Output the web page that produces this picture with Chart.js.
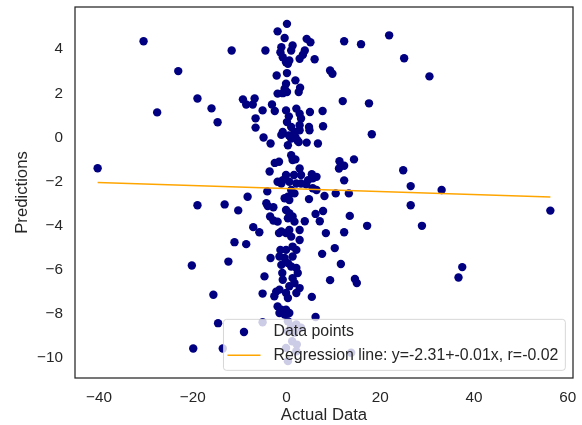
<!DOCTYPE html>
<html>
<head>
<meta charset="utf-8">
<script src="https://cdn.jsdelivr.net/npm/chart.js@4/dist/chart.umd.min.js"></script>
<style>
  body { margin: 0; background: #fff; }
</style>
</head>
<body>
<canvas id="scatterChart" width="582" height="425"></canvas>
<script>
// Valeurs réelles (axe x)
const actualData = [
  -30.5, -40.3, -23.1, -27.6, -19.0, -16.0, -14.7, -11.7, -4.5, -9.3,
  -8.6, -7.2, -6.8, -5.1, -6.6, -6.6, -3.1, -2.5, -4.9, -3.4,
  -1.9, -2.1, -2.5, -1.6, -3.6, -1.1, -4.1, -8.3, 0.1, 4.3,
  5.1, 12.3, 15.9, 21.9, 25.1, 30.5, 6.0, 9.3, 9.8, 12.0,
  17.6, 18.2, 7.7, 7.8, 5.0, 6.7, 4.3, 14.4, 11.3, 12.3,
  11.2, 12.3, 24.9, 26.5, 33.1, 13.3, 10.5, 8.1, 5.4, 6.4,
  2.8, 1.6, 1.0, 1.9, 0.3, 2.6, 1.9, 1.9, 2.9, 2.6,
  -0.1, 0.1, 56.3, 26.5, 28.9, 37.5, 36.7, 17.2, 13.5, 12.3,
  8.4, 10.3, 7.6, 11.6, 9.3, 14.6, 15.0, 5.4, 6.2, 7.8,
  6.2, 7.1, 3.9, 4.8, -19.0, -13.2, -10.3, -4.3, -4.0, -2.8,
  -3.5, -2.8, -7.1, -5.8, -11.1, -8.6, -20.2, -12.4, -3.4, -4.7,
  -15.6, -5.1, -2.6, -2.2, -1.9, -1.5, -14.6, -5.1, -19.9, -13.6,
  -0.9, -1.3, -1.6, 1.0, 0.3, 1.2, 2.2, -0.1, 0.3, 13.8,
  0.3, -0.4, -1.1, -1.3, -0.8, 1.3, 1.0, 3.9, 3.5, 2.8,
  -0.1, 0.6, 0.3, -1.9, -0.8, 0.1, -0.1, 0.5, 0.1, 1.0,
  2.1, 2.8, 3.1, 2.8, 4.8, -0.8, 1.7, 2.8, 0.5, 1.0,
  2.3, 4.9, 1.3, -0.1, 3.1, 5.6, 4.6, -1.9, -0.8, -1.1,
  0.6, 2.1, 3.1, 4.2, 5.6, 6.4, 1.0, 0.3, -0.4, 0.6,
  1.7, -0.1, 0.6, 0.3, 1.3, 1.7, -1.1, -0.1, 0.6, 1.0,
  2.8, 2.8, -0.1, 1.3, 2.1, -1.5, -0.4, -1.1, 0.3, 1.3,
  1.0, 2.1, 2.4, -0.8, 1.3, 1.7, 0.6, 2.8, 2.1, -1.5,
  -0.1, 0.3, -1.1, -0.1, 0.6, -0.4, 2.1, 3.1, 1.7, 2.1,
  -0.4, -1.9
];

// Prédictions (axe y)
const predictions = [
  4.36, -1.39, 3.01, 1.14, 1.77, 1.32, 0.69, 3.94, 3.94, 1.73,
  1.50, 1.50, 1.77, 1.23, 0.87, 0.45, 1.50, 1.20, 0.00, -0.27,
  4.81, 2.81, -1.15, -1.10, -1.54, 0.12, -2.44, -2.68, 5.15, 4.47,
  4.32, 4.36, 4.23, 4.63, 3.59, 2.77, 3.55, 3.04, 2.89, 1.65,
  1.55, 0.15, 1.20, 0.51, 1.16, -0.27, -0.23, -0.99, -1.07, -1.28,
  -1.40, -1.94, -1.48, -2.20, -2.38, -2.53, -2.53, -2.65, -1.66, -1.78,
  -1.40, -1.70, -0.80, -0.99, -0.35, -0.20, 0.03, 2.59, 2.26, 2.06,
  2.44, 2.92, -3.31, -3.07, -4.00, -5.87, -6.34, -4.00, -3.55, -4.29,
  -4.33, -5.01, -5.27, -5.73, -6.46, -6.41, -6.59, -7.22, -8.13, -3.33,
  -3.46, -3.79, -3.79, -2.79, -3.07, -3.03, -3.30, -2.98, -3.10, -3.16,
  -3.58, -3.76, -4.06, -4.29, -4.74, -4.83, -5.80, -5.62, -5.46, -6.29,
  -7.12, -7.07, -7.19, -6.98, -7.65, -7.95, -8.41, -8.37, -9.56, -9.56,
  -6.14, -5.09, -4.33, -8.55, -8.78, -9.23, -9.38, -9.53, -10.13, -9.75,
  -8.32, 4.51, 4.09, 3.86, 3.64, 4.17, 3.94, 3.94, 3.75, 3.57,
  3.41, 3.49, 3.34, 1.99, 2.01, 2.06, 1.23, 0.96, 0.70, 0.48,
  1.31, 1.08, 0.86, 0.56, 0.48, 0.25, 0.25, 0.33, 0.10, -0.05,
  -0.12, 0.33, -1.02, -1.70, -1.70, -1.85, -1.93, -2.00, -1.93, -2.08,
  -2.00, -2.08, -2.08, -2.12, -2.30, -2.38, -2.38, -2.68, -2.75, -2.83,
  -2.53, -3.28, -3.43, -3.66, -3.58, -3.81, -4.26, -4.33, -4.19, -4.49,
  -4.19, -4.64, -5.09, -4.94, -5.09, -5.39, -5.46, -5.77, -5.69, -5.39,
  -5.84, -5.91, -6.14, -6.44, -6.37, -6.59, -6.74, -6.82, -7.04, -6.89,
  -7.04, -7.27, -7.80, -7.80, -7.95, -8.02, -8.47, -8.62, -8.85, -9.68,
  2.21, -3.81
];

// Graduations des axes
const xTicks = [-40, -20, 0, 20, 40, 60];
const yTicks = [-10, -8, -6, -4, -2, 0, 2, 4];

// Droite de régression (valeurs de la légende)
const regIntercept = -2.31;
const regSlope = -0.0068;
const regR = -0.02;

const textColor = '#262626';
const fontFamily = '"Liberation Sans", Arial, sans-serif';

// Marges de 5 % comme matplotlib
function paddedRange(values) {
  const lo = Math.min(...values), hi = Math.max(...values);
  const m = (hi - lo) * 0.05;
  return [lo - m, hi + m];
}
const [xMin, xMax] = paddedRange(actualData);
const [yMin, yMax] = paddedRange(predictions);

const xLo = Math.min(...actualData), xHi = Math.max(...actualData);
const lineLabel = 'Regression line: y=' + regIntercept.toFixed(2) + '+' + regSlope.toFixed(2) +
  'x, r=' + regR.toFixed(2);
const pointsLabel = 'Data points';

// Signe moins typographique
const fmt = v => (v < 0 ? '\u2212' + Math.abs(v) : String(v));

// Pas de marge automatique autour des axes
function noPadding(s) {
  s.paddingTop = 0; s.paddingBottom = 0; s.paddingLeft = 0; s.paddingRight = 0;
}

// Cadre + légende dessinés par-dessus les points
const boxLegend = {
  id: 'boxLegend',
  afterDraw(chart) {
    const { ctx, chartArea } = chart;
    ctx.save();
    ctx.strokeStyle = textColor;
    ctx.lineWidth = 1.25;
    ctx.strokeRect(chartArea.left, chartArea.top, chartArea.right - chartArea.left, chartArea.bottom - chartArea.top);

    ctx.font = '15.9px ' + fontFamily;
    const textW = Math.max(ctx.measureText(pointsLabel).width, ctx.measureText(lineLabel).width);
    const right = chartArea.right - 7.65;
    const bottom = chartArea.bottom - 7.65;
    const w = textW + 50 + 7;
    const h = 51;
    const left = right - w;
    const top = bottom - h;

    ctx.beginPath();
    if (ctx.roundRect) ctx.roundRect(left, top, w, h, 3);
    else ctx.rect(left, top, w, h);
    ctx.fillStyle = 'rgba(255,255,255,0.8)';
    ctx.fill();
    ctx.strokeStyle = 'rgba(204,204,204,0.8)';
    ctx.lineWidth = 1;
    ctx.stroke();

    const row1 = top + 12.7, row2 = top + 36;
    ctx.beginPath();
    ctx.arc(left + 20.5, row1, 4.2, 0, Math.PI * 2);
    ctx.fillStyle = '#000080';
    ctx.fill();

    ctx.beginPath();
    ctx.moveTo(left + 4, row2);
    ctx.lineTo(left + 37, row2);
    ctx.strokeStyle = '#ffa500';
    ctx.lineWidth = 1.5;
    ctx.stroke();

    ctx.fillStyle = textColor;
    ctx.textBaseline = 'middle';
    ctx.textAlign = 'left';
    ctx.fillText(pointsLabel, left + 50, row1);
    ctx.fillText(lineLabel, left + 50, row2);
    ctx.restore();
  }
};

const ctx = document.getElementById('scatterChart').getContext('2d');
const scatterChart = new Chart(ctx, {
  type: 'scatter',
  data: {
    datasets: [
      {
        label: lineLabel,
        data: [
          { x: xLo, y: regIntercept + regSlope * xLo },
          { x: xHi, y: regIntercept + regSlope * xHi }
        ],
        showLine: true,
        borderColor: '#ffa500',
        borderWidth: 1.5,
        pointRadius: 0,
        fill: false,
        order: 0
      },
      {
        label: pointsLabel,
        data: actualData.map((x, i) => ({ x: x, y: predictions[i] })),
        backgroundColor: '#000080',
        borderWidth: 0,
        pointRadius: 4.2,
        order: 1
      }
    ]
  },
  options: {
    responsive: false,
    animation: false,
    layout: { padding: { left: 0, top: 7, right: 9, bottom: 0 } },
    plugins: {
      legend: { display: false },
      tooltip: { enabled: false }
    },
    scales: {
      x: {
        type: 'linear',
        min: xMin,
        max: xMax,
        afterBuildTicks: s => { s.ticks = xTicks.map(v => ({ value: v })); },
        afterFit: s => { s.height = 47; noPadding(s); },
        grid: { display: false, drawTicks: false },
        border: { display: false },
        ticks: {
          autoSkip: false, maxRotation: 0, padding: 11, color: textColor,
          font: { family: fontFamily, size: 15.3 }, callback: fmt
        },
        title: {
          display: true, text: 'Actual Data', color: textColor,
          font: { family: fontFamily, size: 16.7 }, padding: { top: 0, bottom: 0 }
        }
      },
      y: {
        type: 'linear',
        min: yMin,
        max: yMax,
        afterBuildTicks: s => { s.ticks = yTicks.map(v => ({ value: v })); },
        afterFit: s => { s.width = 75; noPadding(s); },
        grid: { display: false, drawTicks: false },
        border: { display: false },
        ticks: {
          autoSkip: false, padding: 12, color: textColor,
          font: { family: fontFamily, size: 15.3 }, callback: fmt
        },
        title: {
          display: true, text: 'Predictions', color: textColor,
          font: { family: fontFamily, size: 16.7 }, padding: { top: 12, bottom: 0 }
        }
      }
    }
  },
  plugins: [boxLegend]
});
</script>
</body>
</html>
